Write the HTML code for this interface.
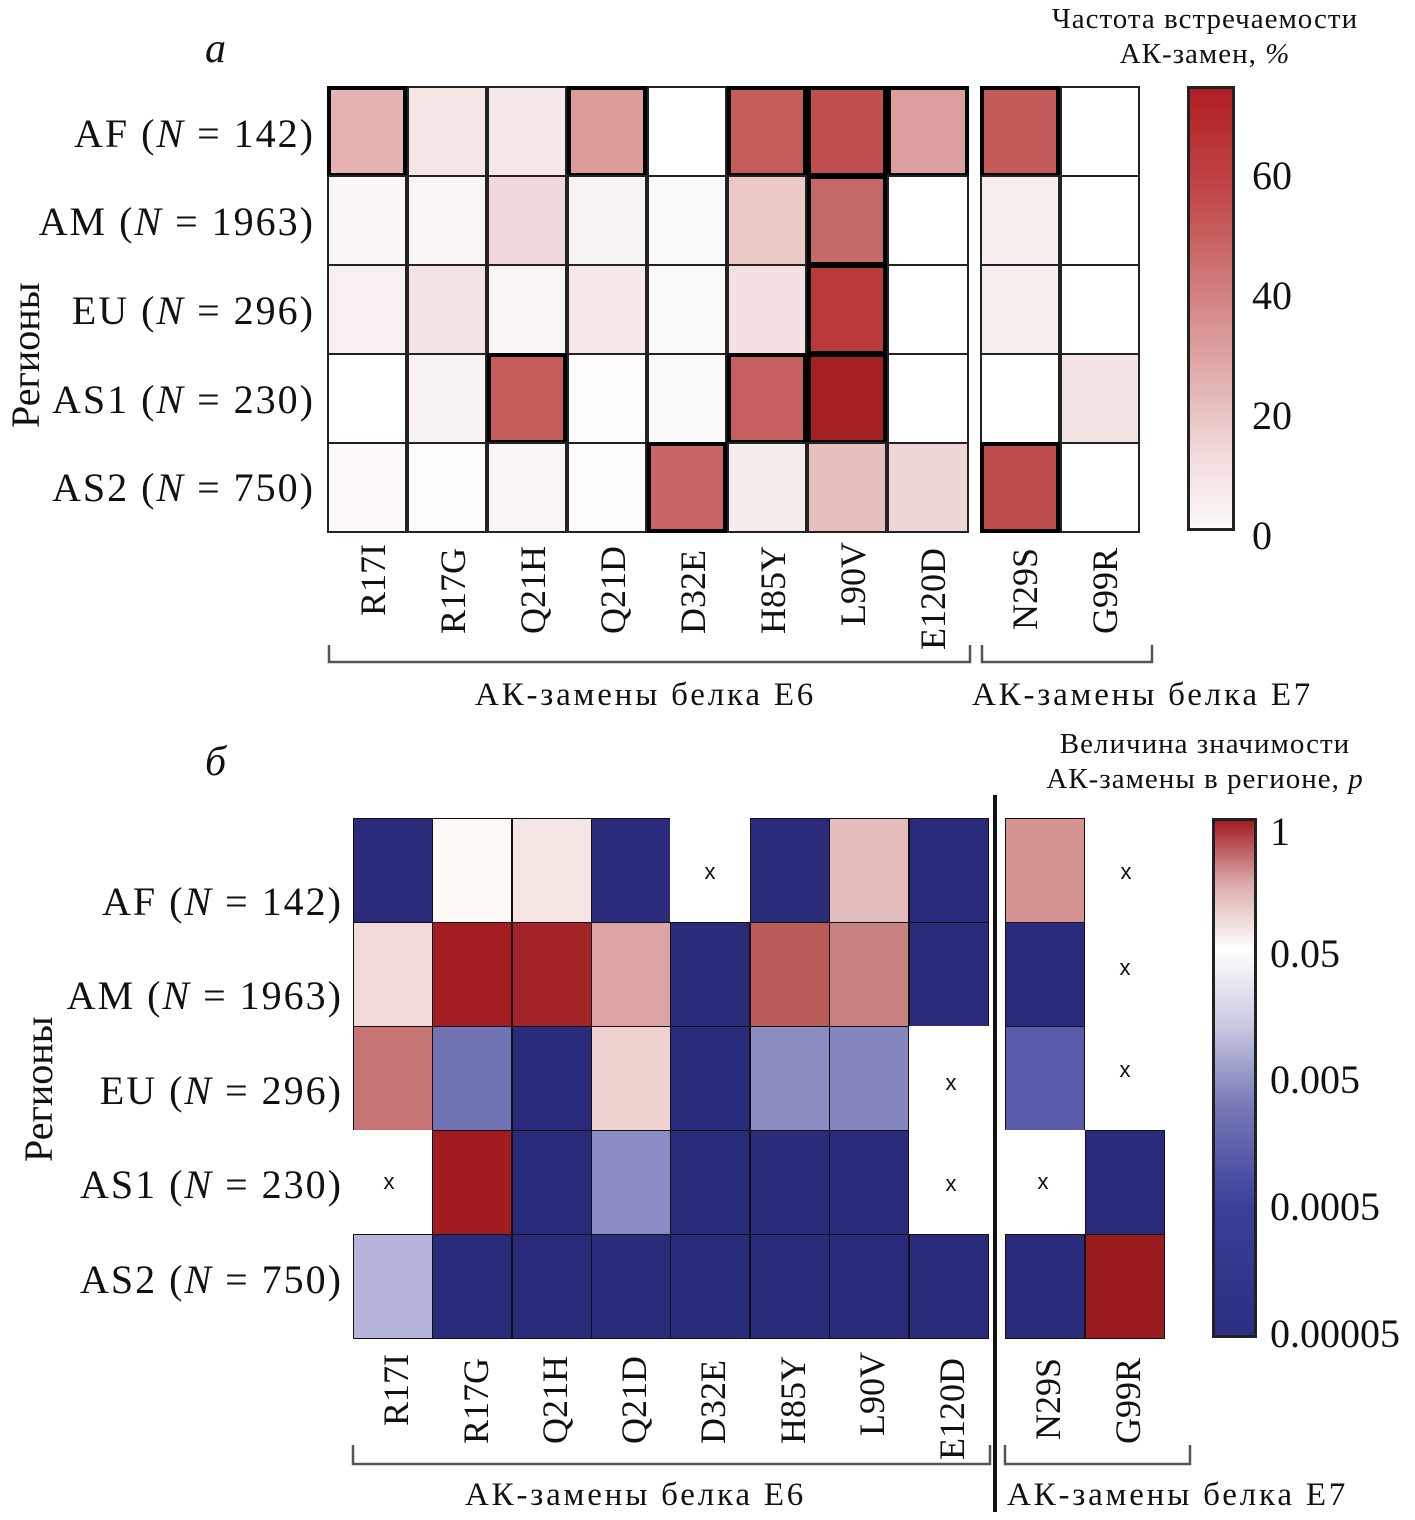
<!DOCTYPE html>
<html><head><meta charset="utf-8">
<style>
body{margin:0;width:1415px;height:1520px;background:#fff;position:relative;overflow:hidden;font-family:"Liberation Serif",serif;color:#111}
.a{position:absolute}
.c{position:absolute;box-sizing:border-box}
.t{position:absolute;white-space:nowrap}
.r{position:absolute;white-space:nowrap;font-size:36px;transform:rotate(-90deg);transform-origin:left top}
.x{position:absolute;font-family:"Liberation Sans",sans-serif;font-size:22px;transform:translate(-50%,-50%)}
.rl{position:absolute;font-size:40px;text-align:right;white-space:nowrap;letter-spacing:2px}
.bl{letter-spacing:2.8px}
</style></head><body>
<div id="g"></div>

<div class="t" style="left:205px;top:25px;font-size:42px;font-style:italic">a</div>
<div class="t" style="left:1040px;top:2px;font-size:29px;text-align:center;line-height:35px;width:330px;letter-spacing:1px">Частота встречаемости<br>АК-замен, <i>%</i></div>

<div class="rl" style="right:1100px;top:110px">AF (<i>N</i> = 142)</div>
<div class="rl" style="right:1100px;top:198px">AM (<i>N</i> = 1963)</div>
<div class="rl" style="right:1100px;top:287px">EU (<i>N</i> = 296)</div>
<div class="rl" style="right:1100px;top:376px">AS1 (<i>N</i> = 230)</div>
<div class="rl" style="right:1100px;top:464px">AS2 (<i>N</i> = 750)</div>
<div class="r" style="left:2px;top:428px;font-size:40px">Регионы</div>

<div class="a" style="left:1187px;top:86px;width:48px;height:445px;box-sizing:border-box;border:3px solid #222;background:linear-gradient(#b01e24,#c24a4a 25%,#d99595 55%,#f3dede 85%,#fbf8f8)"></div>
<div class="t" style="left:1252px;top:152px;font-size:40px">60</div>
<div class="t" style="left:1252px;top:272px;font-size:40px">40</div>
<div class="t" style="left:1252px;top:392px;font-size:40px">20</div>
<div class="t" style="left:1252px;top:512px;font-size:40px">0</div>

<div class="r" style="left:352px;top:616px">R17I</div>
<div class="r" style="left:432px;top:634px">R17G</div>
<div class="r" style="left:512px;top:634px">Q21H</div>
<div class="r" style="left:592px;top:634px">Q21D</div>
<div class="r" style="left:672px;top:634px">D32E</div>
<div class="r" style="left:752px;top:634px">H85Y</div>
<div class="r" style="left:832px;top:626px">L90V</div>
<div class="r" style="left:912px;top:650px">E120D</div>
<div class="r" style="left:1004px;top:630px">N29S</div>
<div class="r" style="left:1084px;top:634px">G99R</div>

<svg class="a" style="left:0;top:0" width="1415" height="1520">
<path d="M329 645 V662 H970 V645 M982 645 V662 H1152 V645" fill="none" stroke="#555" stroke-width="2.5"/>
<path d="M353 1445 V1464 H990 V1445 M1005 1445 V1464 H1190 V1445" fill="none" stroke="#555" stroke-width="2.5"/>
<line x1="995" y1="795" x2="995" y2="1512" stroke="#111" stroke-width="4"/>
</svg>
<div class="t bl" style="left:475px;top:677px;font-size:33px">АК-замены белка Е6</div>
<div class="t bl" style="left:972px;top:677px;font-size:33px">АК-замены белка Е7</div>

<div class="t" style="left:205px;top:738px;font-size:42px;font-style:italic">б</div>
<div class="t" style="left:1020px;top:727px;font-size:29px;text-align:center;line-height:35px;width:370px;letter-spacing:1px">Величина значимости<br>АК-замены в регионе, <i>p</i></div>

<div class="rl" style="right:1072px;top:878px">AF (<i>N</i> = 142)</div>
<div class="rl" style="right:1072px;top:972px">AM (<i>N</i> = 1963)</div>
<div class="rl" style="right:1072px;top:1067px">EU (<i>N</i> = 296)</div>
<div class="rl" style="right:1072px;top:1161px">AS1 (<i>N</i> = 230)</div>
<div class="rl" style="right:1072px;top:1256px">AS2 (<i>N</i> = 750)</div>
<div class="r" style="left:15px;top:1162px;font-size:40px">Регионы</div>

<div class="a" style="left:1212px;top:818px;width:45px;height:520px;box-sizing:border-box;border:3px solid #222;background:linear-gradient(#a31d22,#dba9a9 12%,#fff 25%,#c8c8e2 40%,#7a7ab8 55%,#3a3f9a 75%,#2b2f80)"></div>
<div class="t" style="left:1270px;top:808px;font-size:40px">1</div>
<div class="t" style="left:1270px;top:930px;font-size:40px">0.05</div>
<div class="t" style="left:1270px;top:1056px;font-size:40px">0.005</div>
<div class="t" style="left:1270px;top:1183px;font-size:40px">0.0005</div>
<div class="t" style="left:1270px;top:1310px;font-size:40px">0.00005</div>

<div class="r" style="left:375px;top:1426px">R17I</div>
<div class="r" style="left:455px;top:1444px">R17G</div>
<div class="r" style="left:534px;top:1444px">Q21H</div>
<div class="r" style="left:613px;top:1444px">Q21D</div>
<div class="r" style="left:692px;top:1444px">D32E</div>
<div class="r" style="left:772px;top:1444px">H85Y</div>
<div class="r" style="left:851px;top:1436px">L90V</div>
<div class="r" style="left:931px;top:1460px">E120D</div>
<div class="r" style="left:1027px;top:1440px">N29S</div>
<div class="r" style="left:1107px;top:1444px">G99R</div>

<div class="t bl" style="left:465px;top:1477px;font-size:33px">АК-замены белка Е6</div>
<div class="t bl" style="left:1007px;top:1477px;font-size:33px">АК-замены белка Е7</div>

<div class="x" style="left:710px;top:872px">x</div>
<div class="x" style="left:1126px;top:872px">x</div>
<div class="x" style="left:1125px;top:968px">x</div>
<div class="x" style="left:1125px;top:1070px">x</div>
<div class="x" style="left:951px;top:1083px">x</div>
<div class="x" style="left:389px;top:1182px">x</div>
<div class="x" style="left:951px;top:1184px">x</div>
<div class="x" style="left:1043px;top:1182px">x</div>

<script>
var g=document.getElementById('g'),h='';
var A=[
['#e6b3b3','#f5e6e6','#f5e8e8','#dc9c9c','#fff','#c55c5c','#c24f4f','#dc9f9f','#c55a5a','#fff'],
['#fcf7f7','#faf5f5','#f0d8da','#f8f3f3','#fbf8f8','#ecc9c9','#c46868','#fff','#f8eded','#fff'],
['#f8f0f0','#f2e2e2','#faf5f5','#f5e8e8','#fbf8f8','#f3e1e1','#b93a3a','#fff','#f8eded','#fff'],
['#fff','#f8f1f1','#c65b5b','#fdfafa','#fbf8f8','#c55e5e','#a51e22','#fff','#fff','#f3e3e3'],
['#fdf9f9','#fdfafa','#faf4f4','#fdfbfb','#c96565','#f6ecec','#e8bfbf','#efd6d6','#bf4c4c','#fff']];
var HL=[[0,3,5,6,7,8],[6],[6],[2,5,6],[4,8]];
var ax=[327,407,487,567,647,727,807,887,980,1060],ay=86,ah=89;
for(var r=0;r<5;r++)for(var c=0;c<10;c++){
 var w=c==7?82:80;
 var th=HL[r].indexOf(c)>=0;
 h+='<div class="c" style="left:'+ax[c]+'px;top:'+(ay+r*ah)+'px;width:'+w+'px;height:'+(ah+2)+'px;background:'+A[r][c]+';border:'+(th?'4px solid #000':'2px solid #222')+'"></div>';
}
var B='#2b2b7c',W='#fff';
var P=[
[B,'#fbf8f6','#f5e6e4',B,W,B,'#e3bdbd',B,'#d59493',W],
['#f0dada','#a31d22','#a32428','#dda5a5',B,'#bb5c5b','#c98282',B,B,W],
['#c77475','#7273b5',B,'#efd2d0',B,'#8c8cc3','#8585c0',W,'#5a5aaa',W],
[W,'#a11c20',B,'#8c8cc5',B,B,B,W,W,B],
['#b5b5dc',B,B,B,B,B,B,B,B,'#9a1b1e']];
var bx=[353,432,512,591,670,750,829,909,1005,1085],by=818,bh=104;
for(r=0;r<5;r++)for(c=0;c<10;c++){
 var col=P[r][c];
 var bd=col==W?'none':'1.5px solid #111';
 h+='<div class="c" style="left:'+bx[c]+'px;top:'+(by+r*bh)+'px;width:80px;height:'+(bh+1)+'px;background:'+col+';border:'+bd+'"></div>';
}
g.innerHTML=h;
</script>
</body></html>
